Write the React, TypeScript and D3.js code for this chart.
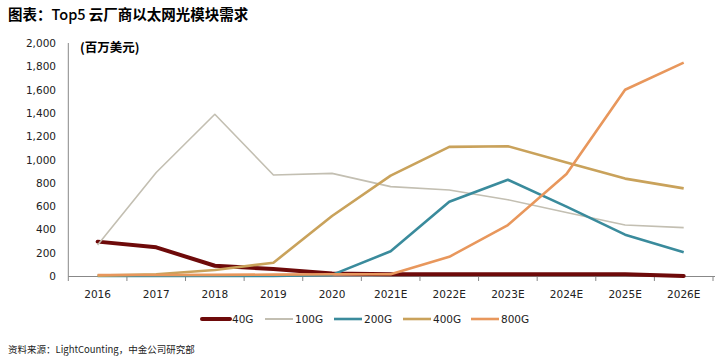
import React from "react";
import * as d3 from "d3";

const categories = ["2016", "2017", "2018", "2019", "2020", "2021E", "2022E", "2023E", "2024E", "2025E", "2026E"];
const s40G = [295, 246, 88, 60, 22, 15, 15, 15, 15, 15, 0];
const s100G = [266, 888, 1388, 867, 881, 767, 738, 655, 545, 438, 415];
const s200G = [0, 0, 0, 0, 10, 212, 637, 826, 596, 355, 203];
const s400G = [3, 15, 51, 114, 515, 862, 1108, 1114, 975, 836, 752];
const s800G = [8, 8, 10, 12, 15, 15, 165, 437, 875, 1599, 1831];
const yTicks = [0, 200, 400, 600, 800, 1000, 1200, 1400, 1600, 1800, 2000];

const seriesNames = ["40G", "100G", "200G", "400G", "800G"];
const seriesData = [s40G, s100G, s200G, s400G, s800G];
const colors = ["#6E0A0A", "#C3BFB2", "#3A8B9C", "#C9A25B", "#E8975C"];
const widths = [4, 1.6, 2.6, 2.6, 2.6];

export default function App() {
  const W = 722, H = 362;
  const x0 = 68.3, x1 = 713;
  const yTop = 43, yBot = 276;
  const x = d3.scaleBand<string>().domain(categories).range([x0, x1]).padding(0);
  const y = d3.scaleLinear().domain([0, 2000]).range([yBot, yTop]);
  const line = d3.line<number>().x((_, i) => (x(categories[i]) as number) + x.bandwidth() / 2).y((d) => y(d));
  const fmt = d3.format(",");
  const numFont = "'DejaVu Sans', sans-serif";
  const cjk = "'Noto Sans CJK SC', sans-serif";
  const legendX = [202, 265, 334, 403, 471];
  return (
    <svg width={W} height={H} style={{ position: "absolute", left: 0, top: 0, background: "#fff" }}>
      <text x={8} y={20} fontFamily={cjk} fontSize={14.5} fill="#000">
        <tspan fontWeight="bold">图表：</tspan>
        <tspan fontWeight="500">Top5 </tspan>
        <tspan fontWeight="bold">云厂商以太网光模块需求</tspan>
      </text>
      <text x={80} y={52} fontFamily={cjk} fontWeight="bold" fontSize={12.5} fill="#000">(百万美元)</text>
      {yTicks.map((t) => (
        <text key={t} x={56} y={y(t) + 4} textAnchor="end" fontFamily={numFont} fontSize={10.5} fill="#222">{fmt(t)}</text>
      ))}
      <line x1={x0} x2={x0} y1={yTop} y2={yBot + 5} stroke="#888" strokeWidth={1} />
      <line x1={x0} x2={x1 + 2} y1={yBot + 0.5} y2={yBot + 0.5} stroke="#888" strokeWidth={1} />
      {categories.map((c) => (
        <g key={c}>
          <line x1={(x(c) as number) + x.bandwidth()} x2={(x(c) as number) + x.bandwidth()} y1={yBot} y2={yBot + 5} stroke="#888" />
          <text x={(x(c) as number) + x.bandwidth() / 2} y={298} textAnchor="middle" fontFamily={numFont} fontSize={10.5} fill="#222">{c}</text>
        </g>
      ))}
      {[0, 1, 2, 3, 4].map((k) => (
        <path key={k} d={line(seriesData[k]) || ""} fill="none" stroke={colors[k]} strokeWidth={widths[k]} strokeLinejoin="round" strokeLinecap={k === 0 ? "round" : "butt"} />
      ))}
      {seriesNames.map((n, k) => (
        <g key={n}>
          <line x1={legendX[k]} x2={legendX[k] + 28} y1={319} y2={319} stroke={colors[k]} strokeWidth={k === 1 ? 2 : widths[k]} strokeLinecap={k === 0 ? "round" : "butt"} />
          <text x={legendX[k] + 30} y={323} fontFamily={numFont} fontSize={10.5} fill="#222">{n}</text>
        </g>
      ))}
      <text x={8} y={353} fontFamily={cjk} fontSize={9.5} fill="#222">资料来源：LightCounting，中金公司研究部</text>
    </svg>
  );
}
